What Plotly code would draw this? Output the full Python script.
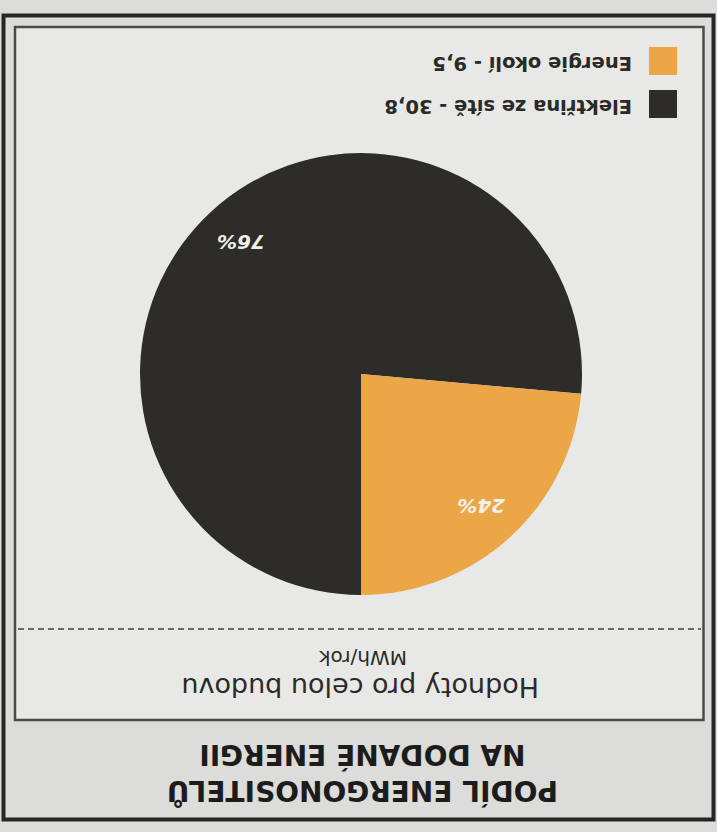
import math
import plotly.graph_objects as go

# ---------------- data ----------------
labels = ["Energie okolí", "Elektřina ze sítě"]
values = [9.5, 30.8]
colors = ["#EBA647", "#2E2C29"]
title_lines = ["PODÍL ENERGONOSITELŮ", "NA DODANÉ ENERGII"]
subtitle = "Hodnoty pro celou budovu"
unit = "MWh/rok"

# ---------------- geometry helpers (pixels -> paper) ----------------
W, H = 717, 832
def X(px):
    return px / W
def Y(py):
    return 1 - py / H

cx_px, cy_px, R_px = 361, 374, 221

fig = go.Figure()
# pie drawn clockwise from 6 o'clock, last listed slice first
fig.add_trace(go.Pie(
    labels=labels[::-1],
    values=values[::-1],
    marker=dict(colors=colors[::-1], line=dict(width=0)),
    sort=False,
    direction="clockwise",
    rotation=180,
    textinfo="none",
    hoverinfo="label+value+percent",
    showlegend=False,
    domain=dict(x=[X(cx_px - R_px), X(cx_px + R_px)],
                y=[Y(cy_px + R_px), Y(cy_px - R_px)]),
))

annotations = []
shapes = []

# frame
shapes.append(dict(type="rect", xref="paper", yref="paper",
                   x0=X(3.5), x1=X(713.5), y0=Y(15.5), y1=Y(819.5),
                   line=dict(color="#262624", width=4), layer="below"))
shapes.append(dict(type="rect", xref="paper", yref="paper",
                   x0=X(15), x1=X(703.5), y0=Y(27), y1=Y(720),
                   line=dict(color="#4a4a48", width=2.5),
                   fillcolor="#e8e8e6", layer="below"))
shapes.append(dict(type="line", xref="paper", yref="paper",
                   x0=X(18), x1=X(701), y0=Y(629), y1=Y(629),
                   line=dict(color="#6a6a68", width=2, dash="6px,4px"),
                   layer="below"))

# percentage labels (upside down), placed at slice mid-angles
total = sum(values)
start = 180.0  # degrees clockwise from 12 o'clock; slices run counterclockwise
r_lab = 0.805 * R_px
for v in values:
    frac = v / total
    mid = start - frac * 180.0
    start -= frac * 360.0
    th = math.radians(mid)
    px = cx_px + math.sin(th) * r_lab
    py = cy_px - math.cos(th) * r_lab
    annotations.append(dict(
        xref="paper", yref="paper", x=X(px), y=Y(py),
        xanchor="center", yanchor="middle", showarrow=False,
        textangle=180,
        text=f"<b><i>{round(100 * frac)}%</i></b>",
        font=dict(family="DejaVu Sans", size=20, color="#f1efe9"),
    ))

# legend (upside down)
for i, (lab, v, c) in enumerate(zip(labels, values, colors)):
    yc = 61 + i * 43
    shapes.append(dict(type="rect", xref="paper", yref="paper",
                       x0=X(649), x1=X(677), y0=Y(yc - 14), y1=Y(yc + 14),
                       fillcolor=c, line=dict(width=0)))
    txt = f"{lab} - {v}".replace(".", ",")
    annotations.append(dict(
        xref="paper", yref="paper", x=X(634), y=Y(yc + 2.5),
        xanchor="right", yanchor="middle", showarrow=False,
        textangle=180, text=f"<b>{txt}</b>",
        font=dict(family="DejaVu Sans", size=19.5, color="#2a2a28"),
    ))

# subtitle + unit (upside down)
annotations.append(dict(
    xref="paper", yref="paper", x=X(360), y=Y(688),
    xanchor="center", yanchor="middle", showarrow=False,
    textangle=180, text=subtitle,
    font=dict(family="DejaVu Sans", size=27, color="#2a2a28"),
))
annotations.append(dict(
    xref="paper", yref="paper", x=X(363), y=Y(658),
    xanchor="center", yanchor="middle", showarrow=False,
    textangle=180, text=unit,
    font=dict(family="DejaVu Sans", size=20, color="#2a2a28"),
))

# title (upside down, first line ends up at the bottom)
annotations.append(dict(
    xref="paper", yref="paper", x=X(363), y=Y(773),
    xanchor="center", yanchor="middle", showarrow=False,
    textangle=180, align="center",
    text="<b>" + "<br>".join(title_lines) + "</b>",
    font=dict(family="DejaVu Sans", size=28, color="#1c1c1a"),
))

fig.update_layout(
    width=W, height=H,
    margin=dict(l=0, r=0, t=0, b=0),
    paper_bgcolor="#dcdcda",
    plot_bgcolor="#dcdcda",
    shapes=shapes,
    annotations=annotations,
    showlegend=False,
)

fig.write_html("out.html",
               config={"displayModeBar": False},
               post_script="document.body.style.margin='0';document.body.style.overflow='hidden';")
